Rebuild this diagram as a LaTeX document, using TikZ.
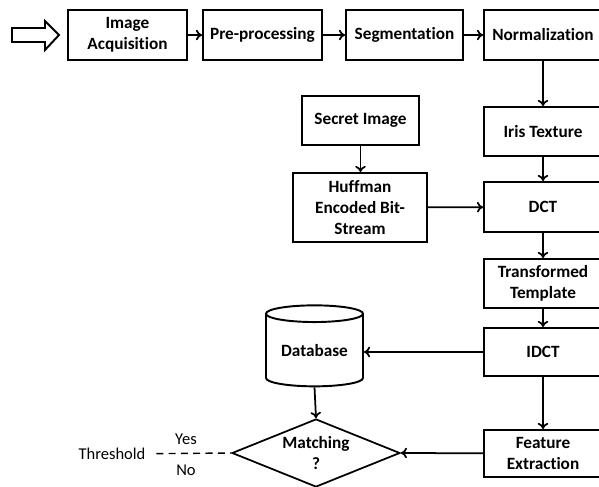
\documentclass[tikz,border=0pt]{standalone}
\usepackage{fontspec}
\setmainfont{Carlito}[Ligatures=NoCommon]
\usetikzlibrary{shapes.geometric,arrows.meta}
\begin{document}
\begin{tikzpicture}[x=0.02cm,y=-0.02cm,
  blk/.style={draw,line width=1.1pt,align=center,font=\fontsize{9.8}{12}\selectfont\bfseries,inner sep=0pt,minimum height=1cm},
  arr/.style={line width=1pt,-{To[length=3.5pt,width=6pt]}},
  lbl/.style={font=\fontsize{9.4}{11}\selectfont,inner sep=1pt}]
  \useasboundingbox[fill=white] (0,0) rectangle (599,487);
  \clip (0,0) rectangle (599,487);
  % top row
  \draw[line width=1.1pt] (12,28) -- (45,28) -- (45,21) -- (59,35) -- (45,50) -- (45,42) -- (12,42) -- cycle;
  \node[blk,minimum width=2.38cm] (acq) at (127.5,35) {Image\\Acquisition};
  \node[blk,minimum width=2.38cm] (pre) at (262.5,35) {Pre-processing};
  \node[blk,minimum width=2.34cm] (seg) at (404.5,35) {Segmentation};
  \node[blk,minimum width=2.36cm] (norm) at (543,35) {Normalization};
  \draw[arr] (acq) -- (pre); \draw[arr] (pre) -- (seg); \draw[arr] (seg) -- (norm);
  % right column
  \node[blk,minimum width=2.36cm,minimum height=0.98cm] (iris) at (543,131.5) {Iris Texture};
  \node[blk,minimum width=2.36cm] (dct) at (543,207) {DCT};
  \node[blk,minimum width=2.36cm,minimum height=0.98cm] (trans) at (543,283.5) {Transformed\\Template};
  \node[blk,minimum width=2.36cm,minimum height=0.96cm] (idct) at (543,352) {IDCT};
  \node[blk,minimum width=2.36cm,minimum height=0.94cm] (feat) at (543,453.5) {Feature\\Extraction};
  \draw[arr] (norm) -- (iris); \draw[arr] (iris) -- (dct); \draw[arr] (dct) -- (trans);
  \draw[arr] (trans) -- (idct); \draw[arr] (idct) -- (feat);
  % secret image
  \node[blk,minimum width=2.34cm,minimum height=0.98cm] (sec) at (360.5,120.5) {Secret Image};
  \node[blk,minimum width=2.68cm,minimum height=1.38cm] (huff) at (360,207.5) {Huffman\\Encoded Bit-\\Stream};
  \draw[arr] (sec) -- (sec|-huff.north); \draw[arr] (huff) -- (dct);
  % matching
  \node[blk,cylinder,shape border rotate=90,aspect=0.25,minimum width=1.94cm,minimum height=1.62cm] (db) at (314.5,350.5) {Database};
  \node[blk,diamond,aspect=2.47,minimum width=3.36cm,minimum height=1.36cm,line width=1pt] (match) at (316,453) {Matching\\?};
  \draw[arr] (idct) -- (db.east|-idct); \draw[arr] (db.south) -- (match.north);
  \draw[arr] (feat) -- (match.east);
  \node[lbl] (thr) at (112,454) {Threshold};
  \draw[line width=0.8pt,dash pattern=on 4pt off 3pt,shorten <=5pt] (thr) -- (match.west);
  \node[lbl] at (186,439) {Yes}; \node[lbl] at (186,470) {No};
\end{tikzpicture}
\end{document}
